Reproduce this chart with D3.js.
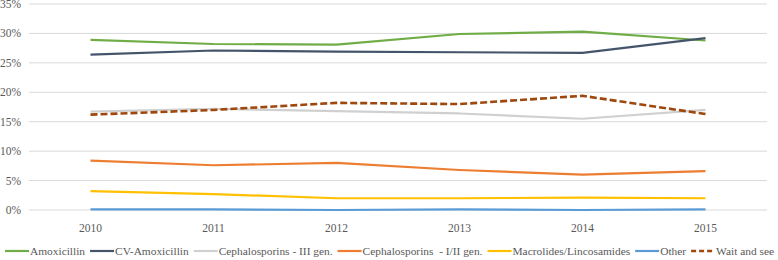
<!DOCTYPE html>
<html>
<head>
<meta charset="utf-8">
<script src="https://cdn.jsdelivr.net/npm/d3@7"></script>
<style>
  body { margin: 0; background: #fff; }
  svg text { font-family: "Liberation Serif", "Times New Roman", serif; fill: #595959; white-space: pre; }
</style>
</head>
<body>
<svg id="chart"></svg>
<script>
// years on the x axis
const years = ['2010', '2011', '2012', '2013', '2014', '2015'];
const yTicks = [0, 5, 10, 15, 20, 25, 30, 35];

// shares per year (%)
const amoxicillin   = [28.9, 28.2, 28.1, 29.9, 30.3, 28.8];
const cvAmoxicillin = [26.4, 27.1, 26.9, 26.8, 26.7, 29.2];
const cephIII       = [16.7, 17.2, 16.8, 16.4, 15.5, 17.0];
const cephI_II      = [8.4, 7.6, 8.0, 6.8, 6.0, 6.6];
const macrolides    = [3.2, 2.7, 2.0, 2.0, 2.1, 2.0];
const other         = [0.1, 0.1, 0.0, 0.1, 0.0, 0.1];
const waitAndSee    = [16.2, 17.0, 18.2, 18.0, 19.4, 16.3];

const seriesNames = ['Amoxicillin', 'CV-Amoxicillin', 'Cephalosporins - III gen.',
  'Cephalosporins  - I/II gen.', 'Macrolides/Lincosamides', 'Other', 'Wait and see'];
const seriesValues = [amoxicillin, cvAmoxicillin, cephIII, cephI_II, macrolides, other, waitAndSee];
const seriesColors = ['#70AD47', '#44546A', '#D0D0D0', '#ED7D31', '#FFC000', '#5B9BD5', '#9E480E'];

const config = {
  width: 778, height: 260,
  margin: { top: 4, right: 11, bottom: 50, left: 29 }
};

const svg = d3.select('#chart')
  .attr('width', config.width)
  .attr('height', config.height);

const width = config.width - config.margin.left - config.margin.right;
const height = config.height - config.margin.top - config.margin.bottom;

const chart = svg.append('g')
  .attr('transform', `translate(${config.margin.left}, ${config.margin.top})`);

const x = d3.scaleBand().domain(years).range([0, width]);
const y = d3.scaleLinear().domain([0, 35]).range([height, 0]);

// gridlines
chart.selectAll('.grid')
  .data(yTicks)
  .enter().append('line')
  .attr('class', 'grid')
  .attr('x1', 0).attr('x2', width)
  .attr('y1', d => y(d)).attr('y2', d => y(d))
  .attr('stroke', '#D9D9D9')
  .attr('stroke-width', 1);

// y labels
chart.selectAll('.ylabel')
  .data(yTicks)
  .enter().append('text')
  .attr('class', 'ylabel')
  .attr('x', -8)
  .attr('y', d => y(d))
  .attr('dy', '0.35em')
  .attr('text-anchor', 'end')
  .style('font-size', '11.5px')
  .text(d => d + '%');

// x labels
chart.selectAll('.xlabel')
  .data(years)
  .enter().append('text')
  .attr('class', 'xlabel')
  .attr('x', d => x(d) + x.bandwidth() / 2)
  .attr('y', height + 22)
  .attr('text-anchor', 'middle')
  .style('font-size', '11.5px')
  .text(d => d);

const line = d3.line()
  .x((d, i) => x(years[i]) + x.bandwidth() / 2)
  .y(d => y(d));

seriesValues.forEach((vals, i) => {
  chart.append('path')
    .datum(vals)
    .attr('fill', 'none')
    .attr('stroke', seriesColors[i])
    .attr('stroke-width', i === 6 ? 2.6 : 2.2)
    .attr('stroke-dasharray', i === 6 ? '7,3' : null)
    .attr('stroke-linejoin', 'round')
    .attr('d', line);
});

// legend
const legend = svg.append('g').attr('transform', `translate(5, ${config.height - 5})`);
let lx = 0;
seriesNames.forEach((name, i) => {
  legend.append('line')
    .attr('x1', lx).attr('x2', lx + 24)
    .attr('y1', -4).attr('y2', -4)
    .attr('stroke', seriesColors[i])
    .attr('stroke-width', i === 6 ? 2.6 : 2.2)
    .attr('stroke-dasharray', i === 6 ? '5,3' : null);
  const t = legend.append('text')
    .attr('x', lx + 25)
    .attr('y', 0)
    .style('font-size', '11.4px')
    .text(name);
  lx += 25 + t.node().getComputedTextLength() + 5;
});
</script>
</body>
</html>
